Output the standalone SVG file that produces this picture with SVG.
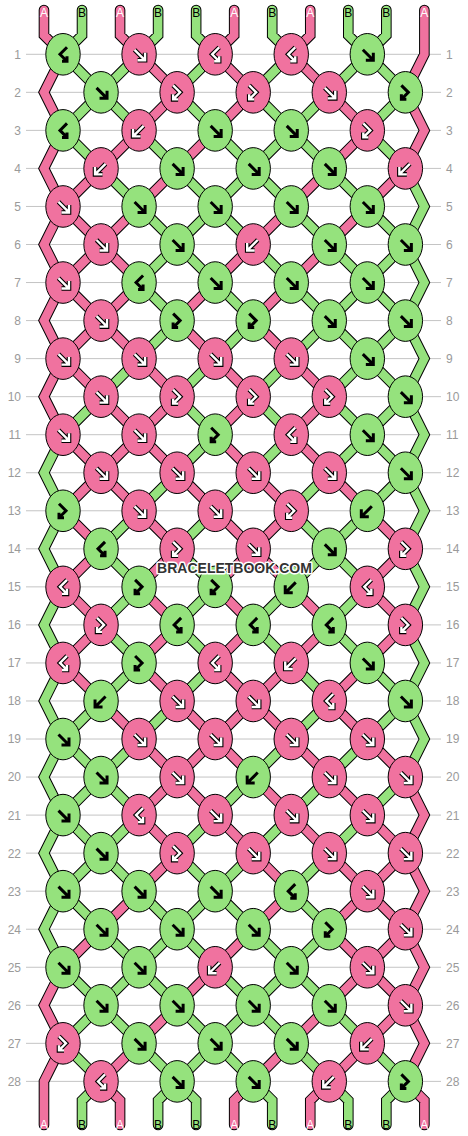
<svg xmlns="http://www.w3.org/2000/svg" width="468" height="1136" viewBox="0 0 468 1136">
<style>
.grid{stroke:#c4c4c4;stroke-width:1;fill:none}
.num{font-family:"Liberation Sans",Arial,sans-serif;font-size:12px;fill:#9a9a9a}
.ne{text-anchor:end}
.cb{fill:none;stroke:#000;stroke-width:0.2787;stroke-linecap:round;stroke-linejoin:miter}
.cp{fill:none;stroke:#F0729F;stroke-width:0.2261;stroke-linecap:round;stroke-linejoin:miter}
.cg{fill:none;stroke:#95E27D;stroke-width:0.2261;stroke-linecap:round;stroke-linejoin:miter}
.kp{fill:#F0729F;stroke:#000;stroke-width:1}
.kg{fill:#95E27D;stroke:#000;stroke-width:1}
.ab{fill:none;stroke:#000;stroke-width:3}
.ao{fill:none;stroke:#000;stroke-width:4.6}
.aw{fill:none;stroke:#fff;stroke-width:2.4}
.lbl{font-family:"Liberation Sans",Arial,sans-serif;font-size:12px;text-anchor:middle}
.la{fill:#fff}
.lb{fill:#000}
.wm{font-family:"Liberation Sans",Arial,sans-serif;font-size:14px;font-weight:bold;text-anchor:middle;fill:#333;stroke:#fff;stroke-width:3;paint-order:stroke;stroke-linejoin:round}
</style>
<defs>
<path id="aF" d="M-4.5-4.5L5.5 5.5M6-1.5V6H-1.5"/>
<path id="aB" d="M4.5-4.5L-5.5 5.5M-6-1.5V6H1.5"/>
<path id="aFB" d="M-4-7L3 0L-4 7M-4 2V7H1"/>
<path id="aBF" d="M4-7L-3 0L4 7M4 2V7H-1"/>
<g id="gF"><ellipse class="kg" rx="17.2" ry="20.8"/><use href="#aF" class="ab"/></g>
<g id="gB"><ellipse class="kg" rx="17.2" ry="20.8"/><use href="#aB" class="ab"/></g>
<g id="gFB"><ellipse class="kg" rx="17.2" ry="20.8"/><use href="#aFB" class="ab"/></g>
<g id="gBF"><ellipse class="kg" rx="17.2" ry="20.8"/><use href="#aBF" class="ab"/></g>
<g id="pF"><ellipse class="kp" rx="17.2" ry="20.8"/><use href="#aF" class="ao"/><use href="#aF" class="aw"/></g>
<g id="pB"><ellipse class="kp" rx="17.2" ry="20.8"/><use href="#aB" class="ao"/><use href="#aB" class="aw"/></g>
<g id="pFB"><ellipse class="kp" rx="17.2" ry="20.8"/><use href="#aFB" class="ao"/><use href="#aFB" class="aw"/></g>
<g id="pBF"><ellipse class="kp" rx="17.2" ry="20.8"/><use href="#aBF" class="ao"/><use href="#aBF" class="aw"/></g>
<path id="PA" d="M-.5-1.164V-.5L0 0M1.5-1.164V-.5L2 0M4.5-1.164V-.5L4 0M6.5-1.164V-.5L6 0
M9.5-1.164V0L9 1M9 1L9.5 2L9 3M9 19L9.5 20L9 21M9 21L9.5 22L9 23M9 23L9.5 24L9 25M9 25L9.5 26L9 27M9 27L9.5 27.5V28.146
M0 0L-.5 1L0 2M0 2L-.5 3L0 4M0 4L-.5 5L0 6M0 6L-.5 7L0 8M0 8L-.5 9L0 10M0 24L-.5 25L0 26M0 26L-.5 27V28.146
M1 27L1.5 27.5V28.146M5 27L4.5 27.5V28.146M7 27L6.5 27.5V28.146
M2 0l1 1M4 0l1 1M6 0l1 1
M3 1l-1 1M5 1l-1 1M7 1l1 1
M2 2l-1 1M4 2l-1 1M8 2l-1 1
M1 3l-1 1M3 3l-1 1M7 3l-1 1M9 3l-1 1
M0 4l1 1M2 4l-1 1M6 4l-1 1M8 4l-1 1
M1 5l-1 1M1 5l1 1M5 5l-1 1M7 5l-1 1
M0 6l1 1M2 6l-1 1M4 6l-1 1M6 6l-1 1
M1 7l-1 1M1 7l1 1M3 7l1 1M5 7l1 1
M0 8l1 1M2 8l1 1M4 8l1 1M6 8l1 1
M1 9l1 1M3 9l-1 1M5 9l-1 1M7 9l-1 1
M0 10l1 1M2 10l-1 1M2 10l1 1M4 10l1 1M6 10l1 1
M1 11l-1 1M1 11l1 1M3 11l1 1M5 11l1 1M7 11l1 1
M0 12l1 1M2 12l1 1M4 12l1 1M6 12l-1 1M8 12l1 1
M1 13l-1 1M3 13l-1 1M5 13l-1 1M5 13l1 1M9 13l-1 1
M0 14l1 1M2 14l1 1M4 14l1 1M6 14l1 1M8 14l1 1
M1 15l-1 1M3 15l-1 1M5 15l-1 1M7 15l-1 1M9 15l-1 1
M0 16l1 1M2 16l1 1M4 16l1 1M6 16l-1 1M8 16l-1 1
M1 17l1 1M3 17l1 1M5 17l-1 1M5 17l1 1M7 17l1 1
M2 18l1 1M4 18l-1 1M4 18l1 1M6 18l1 1M8 18l1 1
M3 19l-1 1M3 19l1 1M5 19l1 1M7 19l1 1
M2 20l1 1M4 20l1 1M6 20l1 1M8 20l1 1
M3 21l-1 1M5 21l1 1M7 21l1 1M9 21l-1 1
M2 22l-1 1M6 22l-1 1M8 22l-1 1M8 22l1 1
M1 23l-1 1M5 23l-1 1M7 23l1 1M9 23l-1 1
M4 24l-1 1M8 24l-1 1M8 24l1 1
M3 25l-1 1M7 25l-1 1M9 25l-1 1
M2 26l-1 1M6 26l-1 1M8 26l-1 1"/>
<path id="PB" d="M.5-1.164V-.5L0 0M2.5-1.164V-.5L2 0M3.5-1.164V-.5L4 0M5.5-1.164V-.5L6 0M7.5-1.164V-.5L8 0M8.5-1.164V-.5L8 0
M0 10L-.5 11L0 12M0 12L-.5 13L0 14M0 14L-.5 15L0 16M0 16L-.5 17L0 18M0 18L-.5 19L0 20M0 20L-.5 21L0 22M0 22L-.5 23L0 24
M9 3L9.5 4L9 5M9 5L9.5 6L9 7M9 7L9.5 8L9 9M9 9L9.5 10L9 11M9 11L9.5 12L9 13M9 13L9.5 14L9 15M9 15L9.5 16L9 17M9 17L9.5 18L9 19
M1 27L.5 27.5V28.146M3 27L2.5 27.5V28.146M3 27L3.5 27.5V28.146M5 27L5.5 27.5V28.146M7 27L7.5 27.5V28.146M9 27L8.5 27.5V28.146
M0 0l1 1M2 0l-1 1M4 0l-1 1M6 0l-1 1M8 0l-1 1M8 0l1 1
M1 1l-1 1M1 1l1 1M3 1l1 1M5 1l1 1M7 1l-1 1M9 1l-1 1
M0 2l1 1M2 2l1 1M4 2l1 1M6 2l-1 1M6 2l1 1M8 2l1 1
M1 3l1 1M3 3l1 1M5 3l-1 1M5 3l1 1M7 3l1 1
M2 4l1 1M4 4l-1 1M4 4l1 1M6 4l1 1M8 4l1 1
M3 5l-1 1M3 5l1 1M5 5l1 1M7 5l1 1M9 5l-1 1
M2 6l1 1M4 6l1 1M6 6l1 1M8 6l-1 1M8 6l1 1
M3 7l-1 1M5 7l-1 1M7 7l-1 1M7 7l1 1M9 7l-1 1
M2 8l-1 1M4 8l-1 1M6 8l-1 1M8 8l-1 1M8 8l1 1
M1 9l-1 1M3 9l1 1M5 9l1 1M7 9l1 1M9 9l-1 1
M4 10l-1 1M6 10l-1 1M8 10l-1 1M8 10l1 1
M3 11l-1 1M5 11l-1 1M7 11l-1 1M9 11l-1 1
M2 12l-1 1M4 12l-1 1M6 12l1 1M8 12l-1 1
M1 13l1 1M3 13l1 1M7 13l-1 1M7 13l1 1
M2 14l-1 1M4 14l-1 1M6 14l-1 1M8 14l-1 1
M1 15l1 1M3 15l1 1M5 15l1 1M7 15l1 1
M2 16l-1 1M4 16l-1 1M6 16l1 1M8 16l1 1
M1 17l-1 1M3 17l-1 1M7 17l-1 1M9 17l-1 1
M0 18l1 1M2 18l-1 1M6 18l-1 1M8 18l-1 1
M1 19l-1 1M1 19l1 1M5 19l-1 1M7 19l-1 1M9 19l-1 1
M0 20l1 1M2 20l-1 1M4 20l-1 1M6 20l-1 1M8 20l-1 1
M1 21l-1 1M1 21l1 1M3 21l1 1M5 21l-1 1M7 21l-1 1
M0 22l1 1M2 22l1 1M4 22l-1 1M4 22l1 1M6 22l1 1
M1 23l1 1M3 23l-1 1M3 23l1 1M5 23l1 1M7 23l-1 1
M0 24l1 1M2 24l-1 1M2 24l1 1M4 24l1 1M6 24l-1 1M6 24l1 1
M1 25l-1 1M1 25l1 1M3 25l1 1M5 25l-1 1M5 25l1 1M7 25l1 1
M0 26l1 1M2 26l1 1M4 26l-1 1M4 26l1 1M6 26l1 1M8 26l1 1"/>
</defs>
<rect width="468" height="1136" fill="#fff"/>
<g id="rows">
<path class="grid" d="M26 54.3H441M26 92.34H441M26 130.38H441M26 168.42H441M26 206.46H441M26 244.5H441M26 282.54H441M26 320.58H441M26 358.62H441M26 396.66H441M26 434.7H441M26 472.74H441M26 510.78H441M26 548.82H441M26 586.86H441M26 624.9H441M26 662.94H441M26 700.98H441M26 739.02H441M26 777.06H441M26 815.1H441M26 853.14H441M26 891.18H441M26 929.22H441M26 967.26H441M26 1005.3H441M26 1043.34H441M26 1081.38H441"/>
<g class="num ne">
<text x="21" y="58.7">1</text><text x="21" y="96.74">2</text><text x="21" y="134.78">3</text><text x="21" y="172.82">4</text><text x="21" y="210.86">5</text><text x="21" y="248.9">6</text><text x="21" y="286.94">7</text><text x="21" y="324.98">8</text><text x="21" y="363.02">9</text><text x="21" y="401.06">10</text><text x="21" y="439.1">11</text><text x="21" y="477.14">12</text><text x="21" y="515.18">13</text><text x="21" y="553.22">14</text><text x="21" y="591.26">15</text><text x="21" y="629.3">16</text><text x="21" y="667.34">17</text><text x="21" y="705.38">18</text><text x="21" y="743.42">19</text><text x="21" y="781.46">20</text><text x="21" y="819.5">21</text><text x="21" y="857.54">22</text><text x="21" y="895.58">23</text><text x="21" y="933.62">24</text><text x="21" y="971.66">25</text><text x="21" y="1009.7">26</text><text x="21" y="1047.74">27</text><text x="21" y="1085.78">28</text>
</g>
<g class="num">
<text x="446" y="58.7">1</text><text x="446" y="96.74">2</text><text x="446" y="134.78">3</text><text x="446" y="172.82">4</text><text x="446" y="210.86">5</text><text x="446" y="248.9">6</text><text x="446" y="286.94">7</text><text x="446" y="324.98">8</text><text x="446" y="363.02">9</text><text x="446" y="401.06">10</text><text x="446" y="439.1">11</text><text x="446" y="477.14">12</text><text x="446" y="515.18">13</text><text x="446" y="553.22">14</text><text x="446" y="591.26">15</text><text x="446" y="629.3">16</text><text x="446" y="667.34">17</text><text x="446" y="705.38">18</text><text x="446" y="743.42">19</text><text x="446" y="781.46">20</text><text x="446" y="819.5">21</text><text x="446" y="857.54">22</text><text x="446" y="895.58">23</text><text x="446" y="933.62">24</text><text x="446" y="971.66">25</text><text x="446" y="1009.7">26</text><text x="446" y="1047.74">27</text><text x="446" y="1085.78">28</text>
</g>
</g>
<g id="connectors" transform="translate(63 54.3) scale(38.04)">
<use href="#PA" class="cb"/><use href="#PB" class="cb"/><use href="#PA" class="cp"/><use href="#PB" class="cg"/>
</g>
<g id="labels" class="lbl">
<text class="la" x="43.98" y="16.7">A</text><text class="lb" x="82.02" y="16.7">B</text><text class="la" x="120.06" y="16.7">A</text><text class="lb" x="158.1" y="16.7">B</text><text class="lb" x="196.14" y="16.7">B</text><text class="la" x="234.18" y="16.7">A</text><text class="lb" x="272.22" y="16.7">B</text><text class="la" x="310.26" y="16.7">A</text><text class="lb" x="348.3" y="16.7">B</text><text class="lb" x="386.34" y="16.7">B</text><text class="la" x="424.38" y="16.7">A</text>
<text class="la" x="43.98" y="1129">A</text><text class="lb" x="82.02" y="1129">B</text><text class="la" x="120.06" y="1129">A</text><text class="lb" x="158.1" y="1129">B</text><text class="lb" x="196.14" y="1129">B</text><text class="la" x="234.18" y="1129">A</text><text class="lb" x="272.22" y="1129">B</text><text class="la" x="310.26" y="1129">A</text><text class="lb" x="348.3" y="1129">B</text><text class="lb" x="386.34" y="1129">B</text><text class="la" x="424.38" y="1129">A</text>
</g>
<g id="knots">
<g id="k1-1"><use href="#gBF" x="63" y="54.3"/></g><g id="k1-2"><use href="#pF" x="139.08" y="54.3"/></g><g id="k1-3"><use href="#pBF" x="215.16" y="54.3"/></g><g id="k1-4"><use href="#pBF" x="291.24" y="54.3"/></g><g id="k1-5"><use href="#gF" x="367.32" y="54.3"/></g>
<g id="k2-1"><use href="#gF" x="101.04" y="92.34"/></g><g id="k2-2"><use href="#pFB" x="177.12" y="92.34"/></g><g id="k2-3"><use href="#pFB" x="253.2" y="92.34"/></g><g id="k2-4"><use href="#pF" x="329.28" y="92.34"/></g><g id="k2-5"><use href="#gFB" x="405.36" y="92.34"/></g>
<g id="k3-1"><use href="#gBF" x="63" y="130.38"/></g><g id="k3-2"><use href="#pB" x="139.08" y="130.38"/></g><g id="k3-3"><use href="#gF" x="215.16" y="130.38"/></g><g id="k3-4"><use href="#gF" x="291.24" y="130.38"/></g><g id="k3-5"><use href="#pFB" x="367.32" y="130.38"/></g>
<g id="k4-1"><use href="#pB" x="101.04" y="168.42"/></g><g id="k4-2"><use href="#gF" x="177.12" y="168.42"/></g><g id="k4-3"><use href="#gF" x="253.2" y="168.42"/></g><g id="k4-4"><use href="#gF" x="329.28" y="168.42"/></g><g id="k4-5"><use href="#pB" x="405.36" y="168.42"/></g>
<g id="k5-1"><use href="#pF" x="63" y="206.46"/></g><g id="k5-2"><use href="#gF" x="139.08" y="206.46"/></g><g id="k5-3"><use href="#gF" x="215.16" y="206.46"/></g><g id="k5-4"><use href="#gF" x="291.24" y="206.46"/></g><g id="k5-5"><use href="#gF" x="367.32" y="206.46"/></g>
<g id="k6-1"><use href="#pF" x="101.04" y="244.5"/></g><g id="k6-2"><use href="#gF" x="177.12" y="244.5"/></g><g id="k6-3"><use href="#pB" x="253.2" y="244.5"/></g><g id="k6-4"><use href="#gF" x="329.28" y="244.5"/></g><g id="k6-5"><use href="#gF" x="405.36" y="244.5"/></g>
<g id="k7-1"><use href="#pF" x="63" y="282.54"/></g><g id="k7-2"><use href="#gBF" x="139.08" y="282.54"/></g><g id="k7-3"><use href="#gF" x="215.16" y="282.54"/></g><g id="k7-4"><use href="#gF" x="291.24" y="282.54"/></g><g id="k7-5"><use href="#gF" x="367.32" y="282.54"/></g>
<g id="k8-1"><use href="#pF" x="101.04" y="320.58"/></g><g id="k8-2"><use href="#gFB" x="177.12" y="320.58"/></g><g id="k8-3"><use href="#gFB" x="253.2" y="320.58"/></g><g id="k8-4"><use href="#gF" x="329.28" y="320.58"/></g><g id="k8-5"><use href="#gF" x="405.36" y="320.58"/></g>
<g id="k9-1"><use href="#pF" x="63" y="358.62"/></g><g id="k9-2"><use href="#pF" x="139.08" y="358.62"/></g><g id="k9-3"><use href="#pF" x="215.16" y="358.62"/></g><g id="k9-4"><use href="#pF" x="291.24" y="358.62"/></g><g id="k9-5"><use href="#gF" x="367.32" y="358.62"/></g>
<g id="k10-1"><use href="#pF" x="101.04" y="396.66"/></g><g id="k10-2"><use href="#pFB" x="177.12" y="396.66"/></g><g id="k10-3"><use href="#pFB" x="253.2" y="396.66"/></g><g id="k10-4"><use href="#pFB" x="329.28" y="396.66"/></g><g id="k10-5"><use href="#gF" x="405.36" y="396.66"/></g>
<g id="k11-1"><use href="#pF" x="63" y="434.7"/></g><g id="k11-2"><use href="#pF" x="139.08" y="434.7"/></g><g id="k11-3"><use href="#gFB" x="215.16" y="434.7"/></g><g id="k11-4"><use href="#pBF" x="291.24" y="434.7"/></g><g id="k11-5"><use href="#gF" x="367.32" y="434.7"/></g>
<g id="k12-1"><use href="#pF" x="101.04" y="472.74"/></g><g id="k12-2"><use href="#pF" x="177.12" y="472.74"/></g><g id="k12-3"><use href="#pF" x="253.2" y="472.74"/></g><g id="k12-4"><use href="#pF" x="329.28" y="472.74"/></g><g id="k12-5"><use href="#gF" x="405.36" y="472.74"/></g>
<g id="k13-1"><use href="#gFB" x="63" y="510.78"/></g><g id="k13-2"><use href="#pF" x="139.08" y="510.78"/></g><g id="k13-3"><use href="#pF" x="215.16" y="510.78"/></g><g id="k13-4"><use href="#pFB" x="291.24" y="510.78"/></g><g id="k13-5"><use href="#gB" x="367.32" y="510.78"/></g>
<g id="k14-1"><use href="#gBF" x="101.04" y="548.82"/></g><g id="k14-2"><use href="#pFB" x="177.12" y="548.82"/></g><g id="k14-3"><use href="#pF" x="253.2" y="548.82"/></g><g id="k14-4"><use href="#gF" x="329.28" y="548.82"/></g><g id="k14-5"><use href="#pFB" x="405.36" y="548.82"/></g>
<g id="k15-1"><use href="#pBF" x="63" y="586.86"/></g><g id="k15-2"><use href="#gFB" x="139.08" y="586.86"/></g><g id="k15-3"><use href="#gFB" x="215.16" y="586.86"/></g><g id="k15-4"><use href="#gB" x="291.24" y="586.86"/></g><g id="k15-5"><use href="#pBF" x="367.32" y="586.86"/></g>
<g id="k16-1"><use href="#pFB" x="101.04" y="624.9"/></g><g id="k16-2"><use href="#gBF" x="177.12" y="624.9"/></g><g id="k16-3"><use href="#gBF" x="253.2" y="624.9"/></g><g id="k16-4"><use href="#gBF" x="329.28" y="624.9"/></g><g id="k16-5"><use href="#pFB" x="405.36" y="624.9"/></g>
<g id="k17-1"><use href="#pBF" x="63" y="662.94"/></g><g id="k17-2"><use href="#gFB" x="139.08" y="662.94"/></g><g id="k17-3"><use href="#pBF" x="215.16" y="662.94"/></g><g id="k17-4"><use href="#pB" x="291.24" y="662.94"/></g><g id="k17-5"><use href="#gF" x="367.32" y="662.94"/></g>
<g id="k18-1"><use href="#gB" x="101.04" y="700.98"/></g><g id="k18-2"><use href="#pF" x="177.12" y="700.98"/></g><g id="k18-3"><use href="#pF" x="253.2" y="700.98"/></g><g id="k18-4"><use href="#pBF" x="329.28" y="700.98"/></g><g id="k18-5"><use href="#gF" x="405.36" y="700.98"/></g>
<g id="k19-1"><use href="#gF" x="63" y="739.02"/></g><g id="k19-2"><use href="#pF" x="139.08" y="739.02"/></g><g id="k19-3"><use href="#pF" x="215.16" y="739.02"/></g><g id="k19-4"><use href="#pF" x="291.24" y="739.02"/></g><g id="k19-5"><use href="#pF" x="367.32" y="739.02"/></g>
<g id="k20-1"><use href="#gF" x="101.04" y="777.06"/></g><g id="k20-2"><use href="#pF" x="177.12" y="777.06"/></g><g id="k20-3"><use href="#gB" x="253.2" y="777.06"/></g><g id="k20-4"><use href="#pF" x="329.28" y="777.06"/></g><g id="k20-5"><use href="#pF" x="405.36" y="777.06"/></g>
<g id="k21-1"><use href="#gF" x="63" y="815.1"/></g><g id="k21-2"><use href="#pBF" x="139.08" y="815.1"/></g><g id="k21-3"><use href="#pF" x="215.16" y="815.1"/></g><g id="k21-4"><use href="#pF" x="291.24" y="815.1"/></g><g id="k21-5"><use href="#pF" x="367.32" y="815.1"/></g>
<g id="k22-1"><use href="#gF" x="101.04" y="853.14"/></g><g id="k22-2"><use href="#pFB" x="177.12" y="853.14"/></g><g id="k22-3"><use href="#pF" x="253.2" y="853.14"/></g><g id="k22-4"><use href="#pF" x="329.28" y="853.14"/></g><g id="k22-5"><use href="#pF" x="405.36" y="853.14"/></g>
<g id="k23-1"><use href="#gF" x="63" y="891.18"/></g><g id="k23-2"><use href="#gF" x="139.08" y="891.18"/></g><g id="k23-3"><use href="#gF" x="215.16" y="891.18"/></g><g id="k23-4"><use href="#gBF" x="291.24" y="891.18"/></g><g id="k23-5"><use href="#pF" x="367.32" y="891.18"/></g>
<g id="k24-1"><use href="#gF" x="101.04" y="929.22"/></g><g id="k24-2"><use href="#gF" x="177.12" y="929.22"/></g><g id="k24-3"><use href="#gF" x="253.2" y="929.22"/></g><g id="k24-4"><use href="#gFB" x="329.28" y="929.22"/></g><g id="k24-5"><use href="#pF" x="405.36" y="929.22"/></g>
<g id="k25-1"><use href="#gF" x="63" y="967.26"/></g><g id="k25-2"><use href="#gF" x="139.08" y="967.26"/></g><g id="k25-3"><use href="#pB" x="215.16" y="967.26"/></g><g id="k25-4"><use href="#gF" x="291.24" y="967.26"/></g><g id="k25-5"><use href="#pF" x="367.32" y="967.26"/></g>
<g id="k26-1"><use href="#gF" x="101.04" y="1005.3"/></g><g id="k26-2"><use href="#gF" x="177.12" y="1005.3"/></g><g id="k26-3"><use href="#gF" x="253.2" y="1005.3"/></g><g id="k26-4"><use href="#gF" x="329.28" y="1005.3"/></g><g id="k26-5"><use href="#pF" x="405.36" y="1005.3"/></g>
<g id="k27-1"><use href="#pFB" x="63" y="1043.34"/></g><g id="k27-2"><use href="#gF" x="139.08" y="1043.34"/></g><g id="k27-3"><use href="#gF" x="215.16" y="1043.34"/></g><g id="k27-4"><use href="#gF" x="291.24" y="1043.34"/></g><g id="k27-5"><use href="#pB" x="367.32" y="1043.34"/></g>
<g id="k28-1"><use href="#pBF" x="101.04" y="1081.38"/></g><g id="k28-2"><use href="#gF" x="177.12" y="1081.38"/></g><g id="k28-3"><use href="#gF" x="253.2" y="1081.38"/></g><g id="k28-4"><use href="#pB" x="329.28" y="1081.38"/></g><g id="k28-5"><use href="#gFB" x="405.36" y="1081.38"/></g>
</g>
<text class="wm" x="234.5" y="572.5">BRACELETBOOK.COM</text>
</svg>
